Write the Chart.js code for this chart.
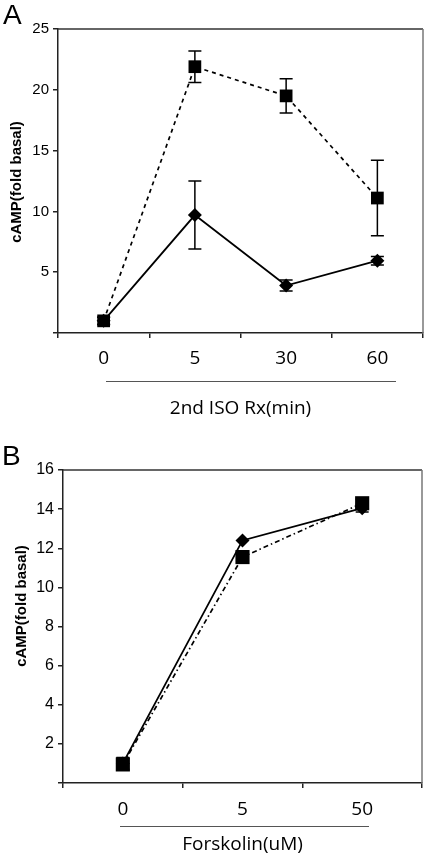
<!DOCTYPE html>
<html>
<head>
<meta charset="utf-8">
<script src="https://cdn.jsdelivr.net/npm/chart.js@4.4.1/dist/chart.umd.min.js"></script>
<style>
  html, body { margin: 0; padding: 0; background: #fff; }
  #page { position: relative; width: 432px; height: 854px; overflow: hidden; font-family: "Liberation Sans", Arial, sans-serif; }
  .panel { position: absolute; left: 0; }
  .letter { position: absolute; font-size: 28px; color: #000; line-height: 1; }
  .ytitle { position: absolute; width: 200px; text-align: center; font-weight: bold; font-size: 15px; line-height: 16px; transform: rotate(-90deg); transform-origin: 50% 50%; color: #000; }
  .rule { position: absolute; height: 0; border-top: 1.5px solid #555; }
</style>
</head>
<body>
<div id="page">
  <div class="panel" style="top:0"><canvas id="chartA" width="432" height="420"></canvas></div>
  <div class="panel" style="top:420px"><canvas id="chartB" width="432" height="434"></canvas></div>

  <div class="letter" style="left:3px; top:1px">A</div>
  <div class="letter" style="left:2px; top:442px">B</div>
  <div class="ytitle" style="left:-84px; top:174px">cAMP(fold basal)</div>
  <div class="ytitle" style="left:-79px; top:598px">cAMP(fold basal)</div>
  <div class="rule" style="left:106px; width:290px; top:381px"></div>
  <div class="rule" style="left:120px; width:249px; top:826px"></div>
</div>

<script>
// 패널 A 데이터
const labelsA = ['0', '5', '30', '60'];
const squaresA = [1.0, 21.9, 19.5, 11.1];
const squaresErrA = [0.3, 1.3, 1.4, 3.1];
const diamondsA = [1.0, 9.7, 3.9, 5.95];
const diamondsErrA = [0.3, 2.8, 0.45, 0.35];

// 패널 B 데이터
const labelsB = ['0', '5', '50'];
const squaresB = [0.95, 11.55, 14.3];
const squaresErrB = [0.3, 0, 0.2];
const diamondsB = [1.0, 12.4, 14.05];
const diamondsErrB = [0.3, 0, 0.2];

// 에러바 그리기
const errorBars = {
    id: 'errorBars',
    beforeDatasetsDraw(chart) {
        const ctx = chart.ctx;
        const yScale = chart.scales.y;
        chart.data.datasets.forEach((ds, di) => {
            if (!ds.errors) return;
            const meta = chart.getDatasetMeta(di);
            ctx.save();
            ctx.strokeStyle = '#000';
            ctx.lineWidth = 1.5;
            meta.data.forEach((pt, i) => {
                const e = ds.errors[i];
                if (!e) return;
                const yTop = yScale.getPixelForValue(ds.data[i] + e);
                const yBot = yScale.getPixelForValue(ds.data[i] - e);
                const x = pt.x;
                ctx.beginPath();
                ctx.moveTo(x, yTop); ctx.lineTo(x, yBot);
                ctx.moveTo(x - 6.5, yTop); ctx.lineTo(x + 6.5, yTop);
                ctx.moveTo(x - 6.5, yBot); ctx.lineTo(x + 6.5, yBot);
                ctx.stroke();
            });
            ctx.restore();
        });
    }
};

// 위/오른쪽 테두리
const frame = {
    id: 'frame',
    beforeDatasetsDraw(chart) {
        const {ctx, chartArea} = chart;
        ctx.save();
        ctx.lineWidth = 1.5;
        ctx.strokeStyle = '#333';
        ctx.beginPath();
        ctx.moveTo(chartArea.left, chartArea.top);
        ctx.lineTo(chartArea.right, chartArea.top);
        ctx.stroke();
        ctx.strokeStyle = '#777';
        ctx.beginPath();
        ctx.moveTo(chartArea.right, chartArea.top);
        ctx.lineTo(chartArea.right, chartArea.bottom);
        ctx.stroke();
        ctx.restore();
    }
};

function makeChart(id, cfg) {
    return new Chart(document.getElementById(id), {
        type: 'line',
        data: {
            labels: cfg.labels,
            datasets: [
                {
                    data: cfg.squares,
                    errors: cfg.squaresErr,
                    borderColor: '#000',
                    backgroundColor: '#000',
                    borderWidth: 1.7,
                    borderDash: cfg.dash,
                    pointStyle: 'rect',
                    pointRadius: cfg.squareR,
                    pointBorderWidth: 0,
                    tension: 0
                },
                {
                    data: cfg.diamonds,
                    errors: cfg.diamondsErr,
                    borderColor: '#000',
                    backgroundColor: '#000',
                    borderWidth: 1.8,
                    pointStyle: 'rectRot',
                    pointRadius: 7,
                    pointBorderWidth: 0,
                    tension: 0
                }
            ]
        },
        options: {
            responsive: false,
            animation: false,
            events: [],
            layout: { padding: { top: cfg.top, right: cfg.right, left: 0, bottom: 0 } },
            plugins: { legend: { display: false }, tooltip: { enabled: false } },
            scales: {
                x: {
                    type: 'category',
                    offset: true,
                    afterFit: s => { s.height = cfg.xHeight; },
                    grid: { offset: true, drawOnChartArea: false, drawTicks: true, tickLength: 5, color: '#222', lineWidth: 1.5 },
                    border: { display: true, color: '#222', width: 1.5 },
                    ticks: { color: '#000', padding: cfg.xPad, font: { family: 'Open Sans', size: 19 } },
                    title: {
                        display: true, text: cfg.xTitle, color: '#000',
                        font: { family: 'Open Sans', size: 19 }, padding: { top: 0, bottom: cfg.titlePad }
                    }
                },
                y: {
                    min: 0, max: cfg.max,
                    afterFit: s => { s.width = cfg.left; },
                    grid: { drawOnChartArea: false, drawTicks: true, tickLength: 5, color: '#222', lineWidth: 1.5 },
                    border: { display: true, color: '#222', width: 1.5 },
                    ticks: {
                        stepSize: cfg.step, color: '#000', padding: cfg.yPad,
                        font: { family: 'Liberation Sans', size: cfg.yFont },
                        callback: v => v === 0 ? '' : v
                    }
                }
            }
        },
        plugins: [frame, errorBars]
    });
}

makeChart('chartA', {
    labels: labelsA, squares: squaresA, squaresErr: squaresErrA,
    diamonds: diamondsA, diamondsErr: diamondsErrA,
    dash: [4, 4], squareR: 9, max: 25, step: 5,
    top: 29, right: 4, left: 58, xHeight: 87, xPad: 9, yFont: 15, yPad: 4,
    xTitle: '2nd ISO Rx(min)', titlePad: 0
});

makeChart('chartB', {
    labels: labelsB, squares: squaresB, squaresErr: squaresErrB,
    diamonds: diamondsB, diamondsErr: diamondsErrB,
    dash: [5, 3, 1.5, 3], squareR: 10, max: 16, step: 2,
    top: 50, right: 8, left: 63, xHeight: 71, xPad: 10, yFont: 16, yPad: 4,
    xTitle: 'Forskolin(uM)', titlePad: -2
});
</script>
</body>
</html>
